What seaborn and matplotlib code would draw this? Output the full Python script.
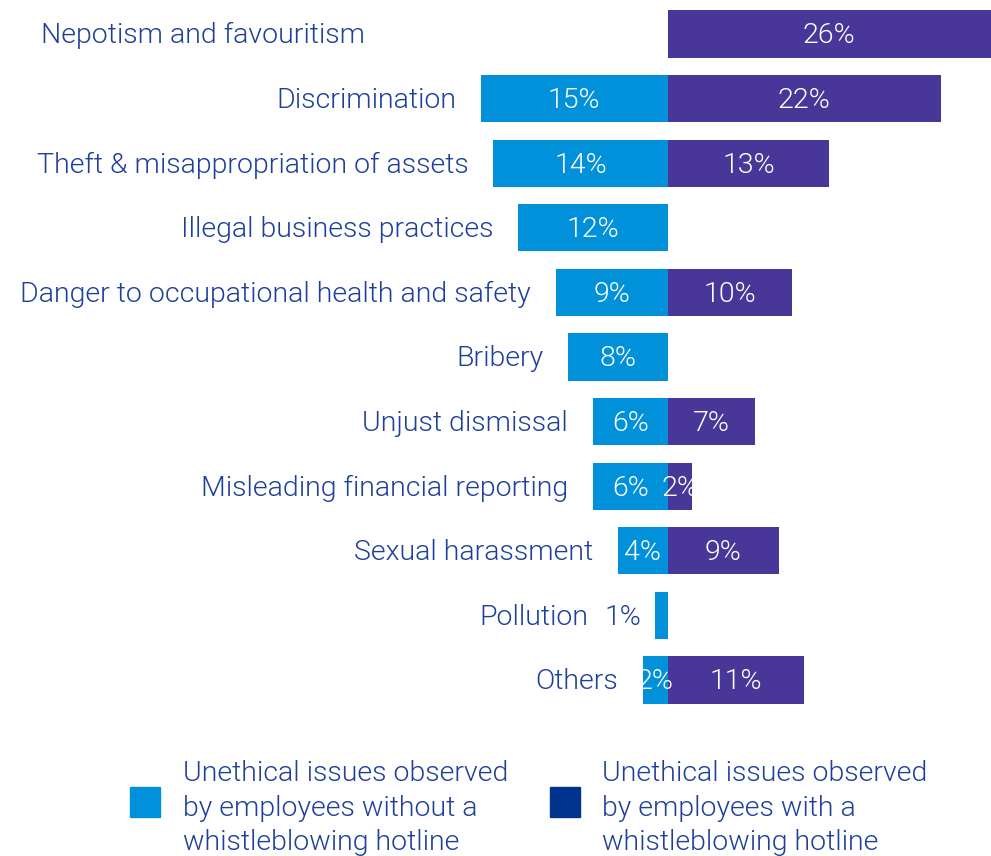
import matplotlib
matplotlib.use("Agg")
import matplotlib.pyplot as plt
import seaborn as sns
import pandas as pd
import numpy as np

categories = [
    "Nepotism and favouritism",
    "Discrimination",
    "Theft & misappropriation of assets",
    "Illegal business practices",
    "Danger to occupational health and safety",
    "Bribery",
    "Unjust dismissal",
    "Misleading financial reporting",
    "Sexual harassment",
    "Pollution",
    "Others",
]
without_hotline = [0, 15, 14, 12, 9, 8, 6, 6, 4, 1, 2]
with_hotline = [26, 22, 13, 0, 10, 0, 7, 2, 9, 0, 11]

legend_labels = [
    "Unethical issues observed\nby employees without a\nwhistleblowing hotline",
    "Unethical issues observed\nby employees with a\nwhistleblowing hotline",
]

LIGHT_BLUE = "#0091DA"
PURPLE = "#483698"
DARK_BLUE = "#00338D"
TEXT = "#1E3F9A"

sns.set_theme(style="white")
plt.rcParams["font.family"] = ["Roboto", "DejaVu Sans"]

W, H = 991, 856
fig = plt.figure(figsize=(W / 100, H / 100), dpi=100)
ax = fig.add_axes([0, 1 - 720 / H, 1, 720 / H])

df = pd.DataFrame({
    "category": categories,
    "left": [-v for v in without_hotline],
    "right": with_hotline,
})

sns.barplot(data=df, x="left", y="category", color=LIGHT_BLUE, width=0.73,
            saturation=1, orient="h", linewidth=0, ax=ax)
sns.barplot(data=df, x="right", y="category", color=PURPLE, width=0.73,
            saturation=1, orient="h", linewidth=0, ax=ax)

ax.set_xlim(-53.65, 26.0)
ax.set_ylim(10.62, -0.526)
ax.axis("off")

fs = 20.5
fw = 300
for i, (cat, lv, rv) in enumerate(zip(categories, without_hotline, with_hotline)):
    # category name, right-aligned just left of the blue bar
    if lv == 0:
        anchor = -24.3
    elif lv <= 1:
        anchor = -lv - 5.4
    else:
        anchor = -lv - 2.0
    ax.text(anchor, i + 0.03, cat, ha="right", va="center", color=TEXT,
            fontsize=fs, fontweight=fw)

    if lv > 0:
        if lv <= 1:
            ax.text(-lv - 1.1, i + 0.03, f"{lv}%", ha="right", va="center",
                    color=TEXT, fontsize=fs, fontweight=fw)
        else:
            ax.text(-lv / 2, i + 0.03, f"{lv}%", ha="center", va="center",
                    color="white", fontsize=fs, fontweight=fw)
    if rv > 0:
        ax.text(rv / 2, i + 0.03, f"{rv}%", ha="center", va="center",
                color="white", fontsize=fs, fontweight=fw)

# legend drawn as squares with multi-line captions
for (sx, tx, col, lab) in [(130, 183, LIGHT_BLUE, legend_labels[0]),
                           (550, 602, DARK_BLUE, legend_labels[1])]:
    fig.patches.append(plt.Rectangle((sx / W, 1 - 817 / H), 30 / W, 30 / H,
                                     transform=fig.transFigure, color=col,
                                     figure=fig))
    fig.text(tx / W, 1 - 808 / H, lab, ha="left", va="center", color=TEXT,
             fontsize=fs, fontweight=fw, linespacing=1.34)

fig.savefig("out.png", dpi=100)
